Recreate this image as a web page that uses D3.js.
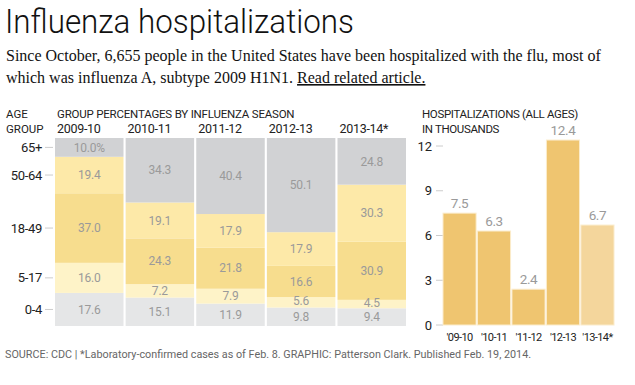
<!DOCTYPE html>
<html>
<head>
<meta charset="utf-8">
<style>
  body { margin: 0; background: #fff; }
  svg { display: block; }
  .narrow { font-family: "Roboto", "Liberation Sans", sans-serif; }
</style>
</head>
<body>
<svg width="635" height="385"></svg>
<script src="https://cdn.jsdelivr.net/npm/d3@7/dist/d3.min.js"></script>
<script>

// share of hospitalizations by age group, per season (percent)
var seasons = ["2009-10", "2010-11", "2011-12", "2012-13", "2013-14*"];
var ageGroups = ["0-4", "5-17", "18-49", "50-64", "65+"];
var pct0to4   = [17.6, 15.1, 11.9, 9.8, 9.4];
var pct5to17  = [16.0, 7.2, 7.9, 5.6, 4.5];
var pct18to49 = [37.0, 24.3, 21.8, 16.6, 30.9];
var pct50to64 = [19.4, 19.1, 17.9, 17.9, 30.3];
var pct65plus = [10.0, 34.3, 40.4, 50.1, 24.8];

// total hospitalizations, thousands
var seasonShort = ["'09-10", "'10-11", "'11-12", "'12-13", "'13-14*"];
var hospitalizations = [7.5, 6.3, 2.4, 12.4, 6.7];
var hospTicks = [0, 3, 6, 9, 12];

var svg = d3.select("svg"),
    width = +svg.attr("width"),
    height = +svg.attr("height");

var fmt = d3.format(".1f");

// title + intro
svg.append("text")
    .attr("x", 5)
    .attr("y", 33)
    .attr("font-family", "Roboto, sans-serif")
    .attr("font-weight", 300)
    .attr("font-size", 33)
    .attr("fill", "#111")
    .attr("textLength", 349)
    .attr("lengthAdjust", "spacingAndGlyphs")
    .text("Influenza hospitalizations");

var intro = svg.append("text")
    .attr("font-family", "'Liberation Serif', 'DejaVu Serif', serif")
    .attr("font-size", 16)
    .attr("fill", "#111");
intro.append("tspan")
    .attr("x", 6).attr("y", 61)
    .text("Since October, 6,655 people in the United States have been hospitalized with the flu, most of");
intro.append("tspan")
    .attr("x", 6).attr("y", 83)
    .text("which was influenza A, subtype 2009 H1N1. ");
intro.append("tspan")
    .attr("text-decoration", "underline")
    .text("Read related article.");

// ---- left: stacked percentages ----
var rows = seasons.map(function(s, i) {
  return {
    season: s,
    "0-4": pct0to4[i],
    "5-17": pct5to17[i],
    "18-49": pct18to49[i],
    "50-64": pct50to64[i],
    "65+": pct65plus[i]
  };
});

var stack = d3.stack()
    .keys(ageGroups)
    .offset(d3.stackOffsetExpand);
var series = stack(rows);

var colour = d3.scaleOrdinal()
    .domain(ageGroups)
    .range(["#e5e6e7", "#fef3c8", "#f7dd8e", "#fde9a8", "#d1d2d4"]);

var x = d3.scaleBand()
    .domain(seasons)
    .range([55, 406])
    .paddingInner(0.03);

var y = d3.scaleLinear()
    .domain([0, 1])
    .range([326, 138]);

var left = svg.append("g").attr("class", "narrow");

left.append("text")
    .attr("x", 6).attr("y", 118)
    .attr("font-size", 11.5).attr("fill", "#222")
    .text("AGE");
left.append("text")
    .attr("x", 6).attr("y", 133)
    .attr("font-size", 11.5).attr("fill", "#222")
    .text("GROUP");
left.append("text")
    .attr("x", 57).attr("y", 118)
    .attr("font-size", 11.5).attr("fill", "#222")
    .attr("letter-spacing", -0.2)
    .text("GROUP PERCENTAGES BY INFLUENZA SEASON");

left.selectAll(".season")
  .data(seasons)
  .enter().append("text")
    .attr("class", "season")
    .attr("x", function(d) { return x(d) + 2; })
    .attr("y", 133)
    .attr("font-size", 12.5)
    .attr("letter-spacing", -0.3)
    .attr("fill", "#222")
    .text(function(d) { return d; });

var layer = left.selectAll(".layer")
  .data(series)
  .enter().append("g")
    .attr("class", "layer")
    .attr("fill", function(d) { return colour(d.key); });

layer.selectAll("rect")
  .data(function(d) { return d; })
  .enter().append("rect")
    .attr("x", function(d) { return x(d.data.season); })
    .attr("y", function(d) { return y(d[1]); })
    .attr("width", x.bandwidth())
    .attr("height", function(d) { return y(d[0]) - y(d[1]); });

series.forEach(function(s) {
  left.selectAll(".lbl-" + s.index)
    .data(s)
    .enter().append("text")
      .attr("x", function(d) { return x(d.data.season) + x.bandwidth() / 2; })
      .attr("y", function(d) {
        var cy = y((d[0] + d[1]) / 2);
        // thin segments: lift the label a little off the one below
        return (y(d[0]) - y(d[1]) < 12) ? cy - 1.5 : cy;
      })
      .attr("dy", "0.35em")
      .attr("text-anchor", "middle")
      .attr("font-size", 12)
      .attr("letter-spacing", -0.2)
      .attr("fill", "#9a9a9a")
      .text(function(d, i) {
        var v = fmt(d.data[s.key]);
        return (s.key === "65+" && i === 0) ? v + "%" : v;
      });
});

// age group ticks sit on the first season's segments
var ageAxis = left.selectAll(".age")
  .data(series)
  .enter().append("g")
    .attr("class", "age")
    .attr("transform", function(d) { return "translate(0," + y((d[0][0] + d[0][1]) / 2) + ")"; });
ageAxis.append("line")
    .attr("x1", 45).attr("x2", 53)
    .attr("stroke", "#ccc");
ageAxis.append("text")
    .attr("x", 42)
    .attr("dy", "0.35em")
    .attr("text-anchor", "end")
    .attr("font-size", 13)
    .attr("letter-spacing", -0.3)
    .attr("fill", "#222")
    .text(function(d) { return d.key; });

// ---- right: totals ----
var right = svg.append("g").attr("class", "narrow");

var x2 = d3.scaleBand()
    .domain(seasonShort)
    .range([443, 614])
    .paddingInner(0.04);

var y2 = d3.scaleLinear()
    .domain([0, 12])
    .range([325, 146]);

right.append("text")
    .attr("x", 422).attr("y", 118)
    .attr("font-size", 11.5).attr("fill", "#222")
    .attr("letter-spacing", -0.35)
    .text("HOSPITALIZATIONS (ALL AGES)");
right.append("text")
    .attr("x", 422).attr("y", 133)
    .attr("font-size", 11.5).attr("fill", "#222")
    .attr("letter-spacing", -0.35)
    .text("IN THOUSANDS");

var yTick = right.selectAll(".ytick")
  .data(hospTicks)
  .enter().append("g")
    .attr("class", "ytick")
    .attr("transform", function(d) { return "translate(0," + y2(d) + ")"; });
yTick.append("line")
    .attr("x1", 436).attr("x2", 443)
    .attr("stroke", "#ccc");
yTick.append("text")
    .attr("x", 432)
    .attr("dy", "0.35em")
    .attr("text-anchor", "end")
    .attr("font-size", 13)
    .attr("fill", "#222")
    .text(function(d) { return d; });

right.selectAll(".bar")
  .data(hospitalizations)
  .enter().append("rect")
    .attr("class", "bar")
    .attr("x", function(d, i) { return x2(seasonShort[i]); })
    .attr("y", function(d) { return y2(d); })
    .attr("width", x2.bandwidth())
    .attr("height", function(d) { return y2(0) - y2(d); })
    .attr("fill", function(d, i) { return i === 4 ? "#f4d69c" : "#efc570"; })
    .attr("stroke", "#fbeccc")
    .attr("stroke-width", 1);

right.selectAll(".val")
  .data(hospitalizations)
  .enter().append("text")
    .attr("class", "val")
    .attr("x", function(d, i) { return x2(seasonShort[i]) + x2.bandwidth() / 2; })
    .attr("y", function(d) { return y2(d) - 5; })
    .attr("text-anchor", "middle")
    .attr("font-size", 13.5)
    .attr("letter-spacing", -0.4)
    .attr("fill", "#9a9a9a")
    .text(function(d) { return fmt(d); });

right.selectAll(".xlbl")
  .data(seasonShort)
  .enter().append("text")
    .attr("class", "xlbl")
    .attr("x", function(d) { return x2(d) + x2.bandwidth() / 2; })
    .attr("y", 341)
    .attr("text-anchor", "middle")
    .attr("font-size", 11)
    .attr("letter-spacing", -0.6)
    .attr("fill", "#222")
    .text(function(d) { return d; });

// footer
svg.append("text")
    .attr("class", "narrow")
    .attr("x", 5)
    .attr("y", 358)
    .attr("font-size", 10.8)
    .attr("fill", "#666")
    .text("SOURCE: CDC | *Laboratory-confirmed cases as of Feb. 8. GRAPHIC: Patterson Clark. Published Feb. 19, 2014.");

</script>
</body>
</html>
